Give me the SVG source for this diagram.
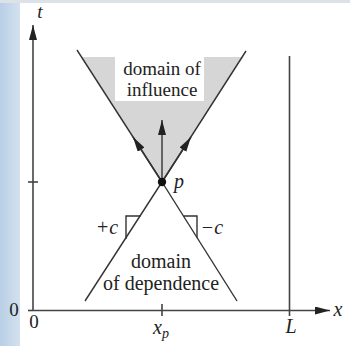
<svg xmlns="http://www.w3.org/2000/svg" width="350" height="346" viewBox="0 0 350 346">
<defs>
<linearGradient id="bg" x1="0" y1="0" x2="1" y2="0">
<stop offset="0" stop-color="#b9cfe6"/>
<stop offset="1" stop-color="#d3e1ee"/>
</linearGradient>
<marker id="ah" markerUnits="userSpaceOnUse" markerWidth="16" markerHeight="10" refX="15" refY="4" orient="auto">
<path d="M0,0 L15,4 L0,8 Z" fill="#222"/>
</marker>
</defs>
<style>
.ln{stroke:#333;stroke-width:1.4;fill:none}
.ax{stroke:#444;stroke-width:1.6;fill:none}
text{fill:#222}
.it{font-style:italic}
</style>
<rect x="0" y="0" width="350" height="346" fill="#ffffff"/>
<rect x="0" y="0" width="20" height="346" fill="url(#bg)"/>
<rect x="0" y="0" width="350" height="3" fill="#dde2e8"/>

<g id="influence-region" font-family="'Liberation Serif', 'DejaVu Serif', serif">
<polygon points="81,57 243,57 162,182" fill="#d6d6d6"/>
<rect x="115" y="57" width="89" height="44" fill="#ffffff"/>
<text x="162" y="75" font-size="19" text-anchor="middle">domain of</text>
<text x="162" y="96" font-size="19" text-anchor="middle">influence</text>
</g>

<g id="connectors">
<line class="ax" x1="33" y1="310.5" x2="33" y2="25" marker-end="url(#ah)"/>
<line class="ax" x1="33" y1="310.5" x2="330" y2="310.5" marker-end="url(#ah)"/>
<line class="ax" x1="289.5" y1="56" x2="289.5" y2="316"/>
<line class="ax" x1="162" y1="304" x2="162" y2="316"/>
<line class="ax" x1="28" y1="182" x2="38" y2="182"/>
<line class="ax" x1="28" y1="310.5" x2="33" y2="310.5"/>
<line class="ln" x1="162" y1="182" x2="77" y2="50"/>
<line class="ln" x1="162" y1="182" x2="246" y2="51"/>
<line class="ln" x1="162" y1="182" x2="85" y2="301"/>
<line class="ln" x1="162" y1="182" x2="237" y2="301"/>
<line class="ln" x1="162" y1="182" x2="162" y2="120" marker-end="url(#ah)"/>
<line class="ln" x1="162" y1="182" x2="133" y2="137" marker-end="url(#ah)"/>
<line class="ln" x1="162" y1="182" x2="191" y2="137" marker-end="url(#ah)"/>
<polyline class="ln" points="140.5,216 126,216 126,239"/>
<polyline class="ln" points="183.5,216 197,216 197,238"/>
</g>

<g id="point-p" font-family="'Liberation Serif', 'DejaVu Serif', serif">
<circle cx="162" cy="182" r="4.2" fill="#111"/>
<text class="it" x="174" y="188" font-size="20">p</text>
</g>

<g id="dependence-region" font-family="'Liberation Serif', 'DejaVu Serif', serif">
<text x="161" y="268" font-size="20" text-anchor="middle">domain</text>
<text x="161" y="290" font-size="20" text-anchor="middle">of dependence</text>
</g>

<g id="labels" font-family="'Liberation Serif', 'DejaVu Serif', serif">
<text class="it" x="40" y="18" font-size="19" text-anchor="middle">t</text>
<text class="it" x="338" y="316" font-size="20" text-anchor="middle">x</text>
<text x="14" y="316" font-size="19" text-anchor="middle">0</text>
<text x="34" y="328" font-size="19" text-anchor="middle">0</text>
<text class="it" x="161" y="334" font-size="20" text-anchor="middle">x<tspan font-size="14" dy="4">p</tspan></text>
<text class="it" x="291" y="333" font-size="20" text-anchor="middle">L</text>
<text class="it" x="107" y="234" font-size="20" text-anchor="middle">+c</text>
<text class="it" x="212" y="234" font-size="20" text-anchor="middle">−c</text>
</g>
</svg>
